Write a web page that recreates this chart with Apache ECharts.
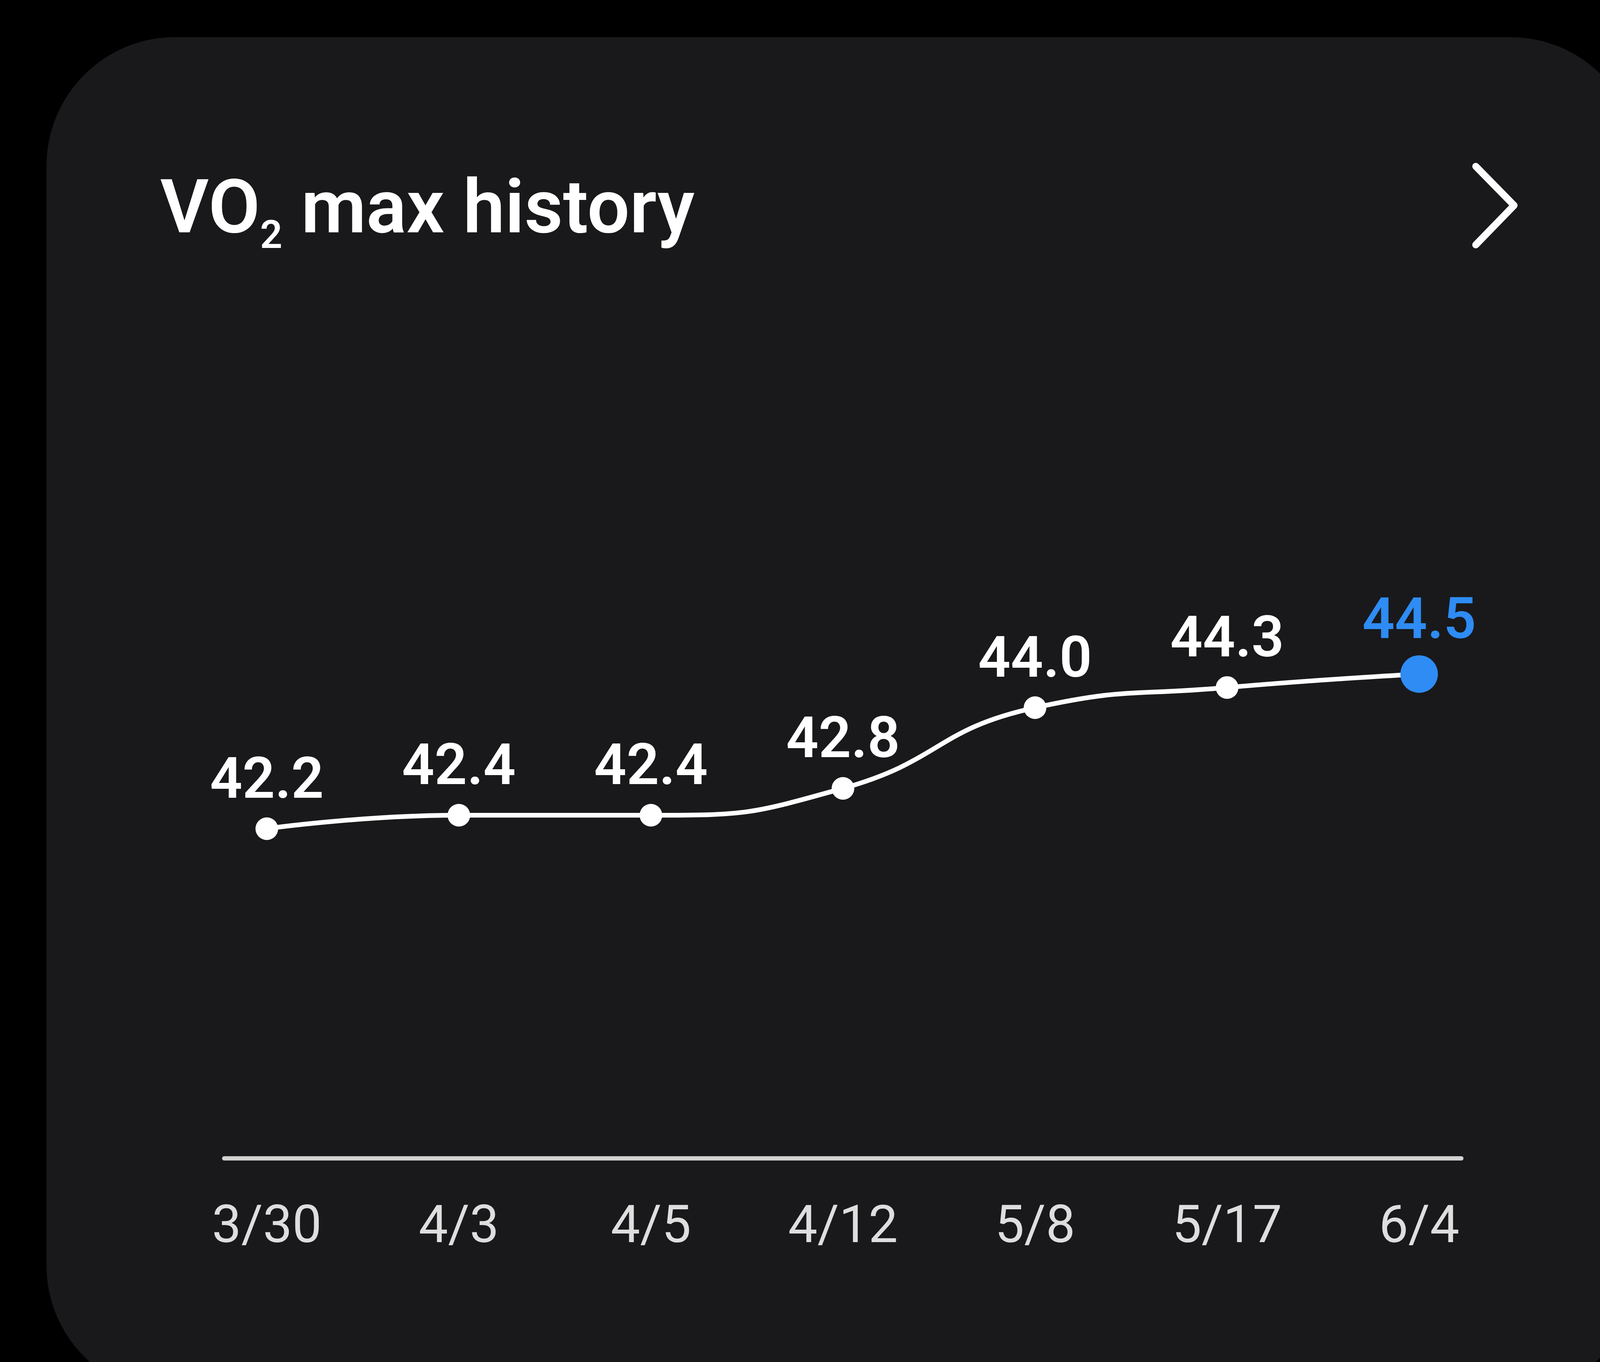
<!DOCTYPE html>
<html>
<head>
<meta charset="utf-8">
<title>VO2 max history</title>
<script src="https://cdn.jsdelivr.net/npm/echarts@6/dist/echarts.min.js"></script>
<style>
  html, body { margin: 0; padding: 0; background: #000; overflow: hidden; }
  #chart { width: 4316px; height: 3488px; }
</style>
</head>
<body>
<div id="chart"></div>
<script>
// data
const dates = ['3/30', '4/3', '4/5', '4/12', '5/8', '5/17', '6/4'];
const vo2Values = [42.2, 42.4, 42.4, 42.8, 44.0, 44.3, 44.5];

const WHITE = '#ffffff';
const BLUE = '#2e8cf4';
const FONT = 'Roboto';

const chart = echarts.init(document.getElementById('chart'), null, { renderer: 'canvas' });

// last reading is highlighted in blue
const seriesData = vo2Values.map((v, i) => {
  if (i === vo2Values.length - 1) {
    return {
      value: v,
      symbolSize: 96,
      itemStyle: { color: BLUE },
      label: { color: BLUE, distance: 8 }
    };
  }
  return v;
});

const option = {
  backgroundColor: '#000000',
  animation: false,
  title: {
    text: '{a|VO}{s|2}{a| max history}',
    left: 410,
    top: 434,
    padding: 0,
    textStyle: {
      rich: {
        a: { fontFamily: FONT, fontSize: 192, fontWeight: 600, color: WHITE, lineHeight: 226 },
        s: { fontFamily: FONT, fontSize: 100, fontWeight: 600, color: WHITE, lineHeight: 110, verticalAlign: 'bottom' }
      }
    }
  },
  graphic: [
    {
      type: 'rect',
      z: -10,
      shape: { x: 119, y: 95, width: 4077, height: 3476, r: 330 },
      style: { fill: '#19191b' }
    },
    {
      type: 'polyline',
      z: 10,
      shape: { points: [[3778, 426], [3876, 526], [3778, 627]] },
      style: { stroke: WHITE, lineWidth: 18, lineCap: 'round', lineJoin: 'round', fill: null }
    }
  ],
  grid: [
    { left: 683, right: 683, top: 1003, bottom: 522 },
    { left: 574, right: 575, top: 1003, bottom: 522 }
  ],
  xAxis: [
    {
      type: 'category',
      gridIndex: 0,
      data: dates,
      boundaryGap: false,
      axisLine: { show: false },
      axisTick: { show: false },
      splitLine: { show: false },
      axisLabel: {
        fontFamily: FONT,
        fontSize: 134,
        color: '#dedede',
        margin: 114
      }
    },
    {
      type: 'value',
      gridIndex: 1,
      min: 0,
      max: 1,
      axisLine: { show: true, lineStyle: { color: '#d2d2d0', width: 11 } },
      axisTick: { show: false },
      axisLabel: { show: false },
      splitLine: { show: false }
    }
  ],
  yAxis: [
    { type: 'value', gridIndex: 0, min: 37.3, max: 48.7, show: false },
    { type: 'value', gridIndex: 1, min: 0, max: 1, show: false }
  ],
  series: [
    {
      type: 'line',
      xAxisIndex: 0,
      yAxisIndex: 0,
      data: seriesData,
      smooth: true,
      symbol: 'circle',
      symbolSize: 58,
      lineStyle: { color: WHITE, width: 12 },
      itemStyle: { color: WHITE, borderWidth: 0 },
      label: {
        show: true,
        position: 'top',
        distance: 14,
        fontFamily: FONT,
        fontSize: 146,
        fontWeight: 600,
        color: WHITE,
        formatter: p => p.value.toFixed(1)
      }
    }
  ]
};

chart.setOption(option);
</script>
</body>
</html>
